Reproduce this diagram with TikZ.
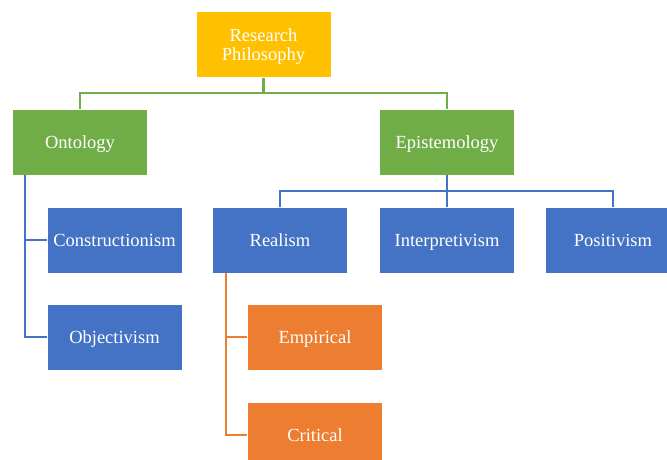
\documentclass[tikz,border=0pt]{standalone}
\usepackage{fontspec}
\setmainfont{Liberation Serif}
\definecolor{cyel}{HTML}{FFC000}
\definecolor{cgreen}{HTML}{70AD47}
\definecolor{cblue}{HTML}{4472C4}
\definecolor{corange}{HTML}{ED7D31}
\begin{document}
\begin{tikzpicture}[x=1pt,y=-1pt,
  box/.style={rectangle, draw=white, line width=0.6pt, minimum width=135pt, minimum height=66pt,
    text=white, align=center, inner sep=2pt, font=\fontsize{18.5}{20}\selectfont,
    text height=16pt, text depth=4pt},
  ybox/.style={box, fill=cyel, text height=36pt, text depth=4pt},
  gbox/.style={box, fill=cgreen},
  bbox/.style={box, fill=cblue},
  obox/.style={box, fill=corange},
  gline/.style={draw=cgreen, line width=2.4pt},
  bline/.style={draw=cblue, line width=2.4pt},
  oline/.style={draw=corange, line width=2.4pt}]
\useasboundingbox (0,0) rectangle (667,460);
\clip (0,0) rectangle (667,460);
\node[ybox] (rp) at (263.5,44.5) {Research\\[-0.5pt]Philosophy};
\node[gbox] (ont) at (80,142) {Ontology};
\node[gbox] (epi) at (447,142) {Epistemology};
\node[bbox] (con) at (114.5,240) {Constructionism};
\node[bbox] (obj) at (114.5,337) {Objectivism};
\node[bbox] (rea) at (280,240) {Realism};
\node[bbox] (int) at (447,240) {Interpretivism};
\node[bbox] (pos) at (613,240) {Positivism};
\node[obox] (emp) at (315,337) {Empirical};
\node[obox] (cri) at (315,435) {Critical};
% green connectors
\coordinate (gj) at (263.5,93);
\draw[gline] (rp.south) -- (gj);
\draw[gline] (ont.north) |- (gj) -| (epi.north);
% ontology children
\coordinate (ot) at (25,175);
\draw[bline] (ot) |- (obj.west);
\draw[bline] (con.west) -- (con.west -| ot);
% epistemology children
\coordinate (ej) at (447,191);
\draw[bline] (epi.south) -- (ej);
\draw[bline] (rea.north) |- (ej) -| (pos.north);
\draw[bline] (ej) -- (int.north);
% realism children
\coordinate (rt) at (226,273);
\draw[oline] (rt) |- (cri.west);
\draw[oline] (emp.west) -- (emp.west -| rt);
\end{tikzpicture}
\end{document}
